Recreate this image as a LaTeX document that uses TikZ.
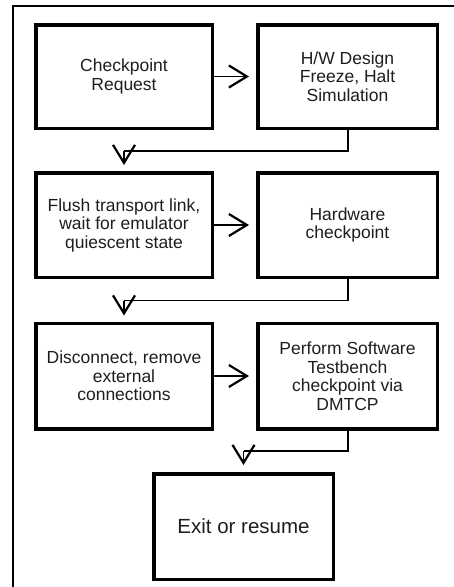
\documentclass[tikz,border=0pt]{standalone}
\usepackage{fontspec}
\setmainfont{Liberation Sans}
\usetikzlibrary{arrows.meta}
\definecolor{txt}{HTML}{1E1E1E}
\tikzset{
  box/.style={draw=black, line width=3.5pt, align=center, text=txt,
    font=\fontsize{17.5}{18.5}\selectfont, inner sep=0pt},
  conn/.style={line width=1.6pt, black},
  arr/.style={conn, -{Straight Barb[length=18pt,width=22pt,line width=2.2pt]}},
}
\begin{document}
\begin{tikzpicture}[x=1pt,y=-1pt]
\useasboundingbox (0,0) rectangle (454,587);
% outer frame (left and top edges visible)
\draw[line width=1.5pt] (12.75,590) -- (12.75,6) -- (460,6);
% boxes
\node[box, minimum width=176.5pt, minimum height=103.5pt] (b1) at (124,76.5) {Checkpoint\\Request};
\node[box, minimum width=179.5pt, minimum height=103.5pt] (b2) at (347.5,76.5) {H/W Design\\Freeze, Halt\\Simulation};
\node[box, minimum width=176.5pt, minimum height=104.5pt] (b3) at (124,225) {Flush transport link,\\wait for emulator\\quiescent state};
\node[box, minimum width=179.5pt, minimum height=104.5pt] (b4) at (347.5,225) {Hardware\\checkpoint};
\node[box, minimum width=176.5pt, minimum height=105.5pt] (b5) at (124,376) {Disconnect, remove\\external\\connections};
\node[box, minimum width=179.5pt, minimum height=105.5pt] (b6) at (347.5,376) {Perform Software\\Testbench\\checkpoint via\\DMTCP};
\node[box, minimum width=179.5pt, minimum height=105.5pt, font=\fontsize{20.5}{24}\selectfont] (b7) at (243.5,526.5) {Exit or resume};
% horizontal arrows
\draw[arr, shorten >=7pt] (b1) -- (b2);
\draw[arr, shorten >=7pt] (b3) -- (b4);
\draw[arr, shorten >=7pt] (b5) -- (b6);
% turn points
\coordinate (k1) at (124,151);
\coordinate (k2) at (124,300.5);
\coordinate (k3) at (243.5,451);
\draw[conn] ([xshift=0.5pt]b2.south) |- (k1);
\draw[arr, shorten >=6pt] (k1) -- (b3.north);
\draw[conn] ([xshift=0.5pt]b4.south) |- (k2);
\draw[arr, shorten >=6pt] (k2) -- (b5.north);
\draw[conn] ([xshift=0.5pt]b6.south) |- (k3);
\draw[arr, shorten >=7pt] (k3) -- (b7.north);
\end{tikzpicture}
\end{document}
